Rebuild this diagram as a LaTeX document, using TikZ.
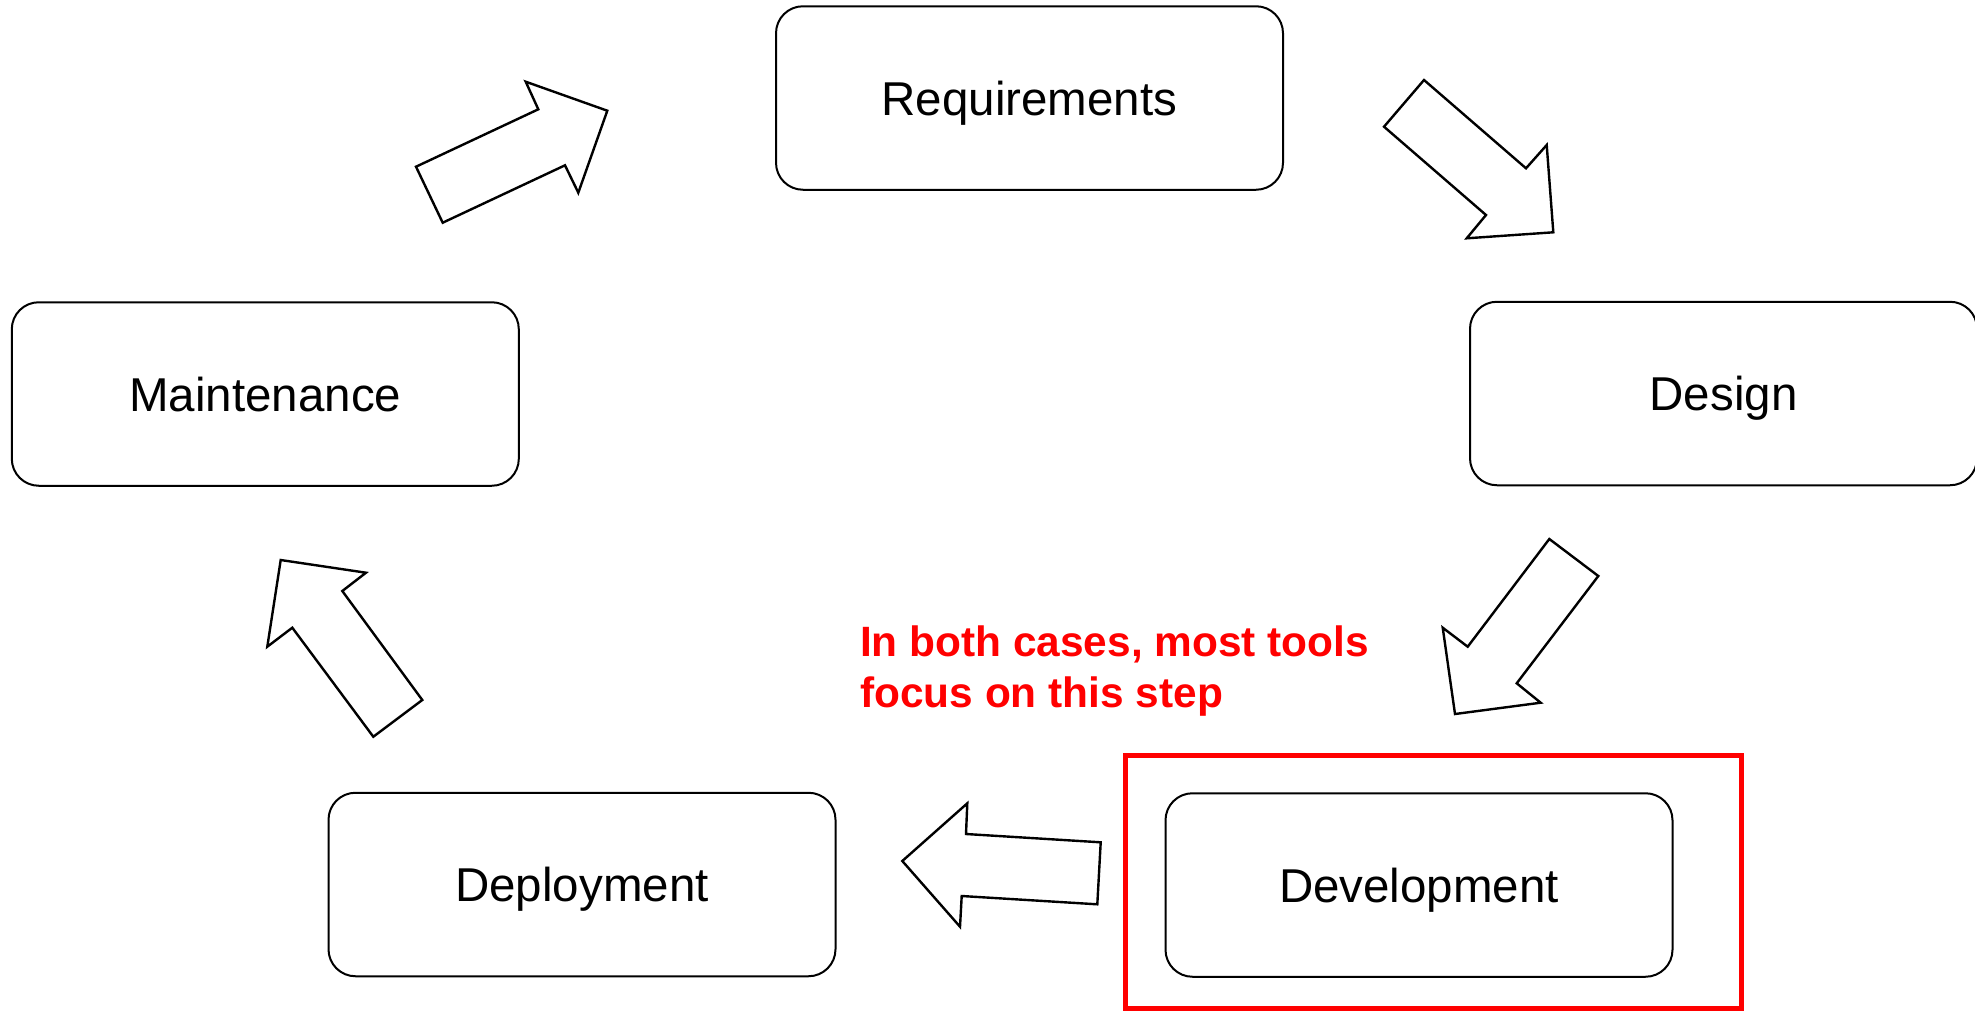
\documentclass[tikz,border=0pt]{standalone}
\usepackage{fontspec}
\setmainfont{Liberation Sans}
\begin{document}
\begin{tikzpicture}[x=1pt, y=-1pt,
  phase/.style={draw=black, line width=2pt, fill=white, rounded corners=27pt,
    minimum width=507pt, minimum height=183.5pt, inner sep=0pt,
    text height=34pt, text depth=0pt,
    font=\fontsize{47.5}{57}\selectfont},
  blockarrow/.style={draw=black, line width=2.4pt, fill=white, line join=miter},
  highlight/.style={draw=red, line width=5pt},
  note/.style={text=red, align=left, inner sep=0pt, anchor=north west,
    font=\fontsize{42.4}{50.4}\selectfont\bfseries}]

\useasboundingbox (0,0) rectangle (1975,1010);

% life-cycle phases
\node[phase] (req)    at (1029.5,  98.0) {Requirements};
\node[phase] (design) at (1723.5, 393.5) {Design};
\node[phase] (dev)    at (1419.0, 885.0) {Development};
\node[phase] (dep)    at ( 582.0, 884.5) {Deployment};
\node[phase] (maint)  at ( 265.3, 394.0) {Maintenance};

% block arrows between phases
\draw[blockarrow] (416.0,166.7) -- (538.3,109.3) -- (525.7,81.7) -- (607.3,110.7)
  -- (578.3,192.7) -- (565.0,165.3) -- (442.7,222.7) -- cycle;
\draw[blockarrow] (1424.0,80.0) -- (1526.0,168.3) -- (1546.7,145.0) -- (1553.3,232.3)
  -- (1466.7,238.3) -- (1486.0,215.0) -- (1384.0,126.7) -- cycle;
\draw[blockarrow] (1549.3,539.0) -- (1598.3,576.0) -- (1516.7,683.3) -- (1540.7,702.7)
  -- (1455.0,714.0) -- (1442.7,627.7) -- (1467.7,646.7) -- cycle;
\draw[blockarrow] (1100.7,842.3) -- (1097.3,904.3) -- (961.7,896.0) -- (960.0,926.7)
  -- (902.3,861.0) -- (967.3,803.3) -- (966.0,834.0) -- cycle;
\draw[blockarrow] (422.3,700.0) -- (373.3,736.7) -- (292.3,627.7) -- (267.3,646.7)
  -- (280.7,560.0) -- (366.0,572.7) -- (342.3,591.0) -- cycle;

% highlighted phase
\draw[highlight] (1125,755) rectangle (1741.5,1008);
\node[note] (remark) at (860,626) {In both cases, most tools\\focus on this step};

\end{tikzpicture}
\end{document}
